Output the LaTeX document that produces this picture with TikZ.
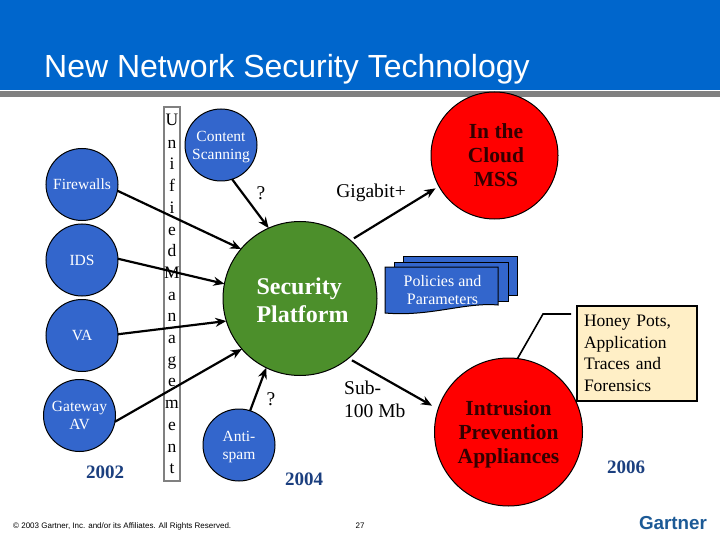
\documentclass[tikz,border=0pt]{standalone}
\usepackage{fontspec}
\setmainfont{Liberation Serif}
\newfontfamily\arialfont{Liberation Sans}
\usetikzlibrary{positioning,arrows.meta}
\definecolor{headblue}{HTML}{0066CC}
\definecolor{bargray}{HTML}{808080}
\definecolor{techblue}{HTML}{3366CC}
\definecolor{platgreen}{HTML}{4C8F2B}
\definecolor{hotred}{HTML}{FF0000}
\definecolor{inkred}{HTML}{330000}
\definecolor{yearnavy}{HTML}{1B3F7F}
\definecolor{notecream}{HTML}{FFEFC6}
\definecolor{logoblue}{HTML}{1C5A96}
\tikzset{
  tech/.style={draw=black, fill=techblue, circle, line width=1pt, inner sep=0pt, outer sep=0pt, minimum size=72pt, align=center, text=white, font=\fontsize{15.5}{17.5}\selectfont},
  platform/.style={draw=black, fill=platgreen, circle, line width=1pt, inner sep=0pt, outer sep=0pt, minimum size=154pt},
  hot/.style={draw=black, fill=hotred, circle, line width=1pt, inner sep=0pt, outer sep=0pt},
  disctext/.style={inner sep=0pt, align=center, text=white, font=\fontsize{15.5}{17.5}\selectfont},
  plattext/.style={inner sep=0pt, align=left, text=white, font=\fontsize{24}{28}\selectfont\bfseries},
  hottext/.style={inner sep=0pt, align=center, text=inkred, font=\fontsize{21.5}{24}\selectfont\bfseries},
  flow/.style={-{Stealth[length=11pt,width=9pt]}, line width=2.2pt, draw=black},
  sheet/.style={draw=black, fill=techblue, line width=1pt},
  lbl/.style={font=\fontsize{19.5}{23}\selectfont, align=left, inner sep=0pt},
  year/.style={font=\fontsize{19}{22}\selectfont\bfseries, text=yearnavy, inner sep=0pt},
  foot/.style={font=\arialfont\fontsize{8}{9}\selectfont, inner sep=0pt},
  leader/.style={line width=1.6pt, draw=black},
}
\begin{document}
\begin{tikzpicture}[x=1pt,y=-1pt]
  \useasboundingbox (0,0) rectangle (720,540);

  % 1. HEADER
  \fill[headblue] (0,0) rectangle (720,90);
  \fill[bargray] (0,91) rectangle (720,97);
  \node[anchor=base west, inner sep=0pt, text=white, font=\arialfont\fontsize{32}{36}\selectfont] (title) at (44,77.5) {New Network Security Technology};

  % 2. LEFT COLUMN
  \node[tech] (firewalls) at (82,184.5) {Firewalls};
  \node[tech, below=3.5pt of firewalls] (ids) {IDS};
  \node[tech, below=3.5pt of ids] (va) {VA};
  \node[tech, below=8pt of va, xshift=-2.5pt] (gateway) {Gateway\\ AV};
  \node[year] (y2002) at (105,472) {2002};

  % 3. MANAGEMENT STRIP
  \node[draw=bargray, line width=2pt, inner sep=0pt, minimum width=16pt, minimum height=374pt, text width=16pt, align=center, font=\fontsize{17.5}{21.7}\selectfont] (unified) at (172,294)
    {\vspace{1pt}U\\ n\\ i\\ f\\ i\\ e\\ d\\ M\\ a\\ n\\ a\\ g\\ e\\ m\\ e\\ n\\ t};

  % 4. CENTRE
  \node[platform] (secplat) at (300,298.5) {};
  \node[plattext] (secplattext) at (302.5,300.5) {Security\\ Platform};
  \node[tech] (content) at (221,145) {};
  \node[disctext] (contenttext) at (221,147) {Content\\ Scanning};
  \node[tech] (antispam) at (239,445) {};
  \node[disctext] (antispamtext) at (239,447) {Anti-\\ spam};
  \node[hot, minimum size=127pt] (cloud) at (494.5,155.5) {};
  \node[hottext] (cloudtext) at (496,155.5) {In the\\ Cloud\\ MSS};
  \node[hot, minimum size=148pt] (intrusion) at (508.5,432) {};
  \node[hottext] (intrusiontext) at (508.5,434) {Intrusion\\ Prevention\\ Appliances};

  % 5. POLICY SHEETS
  \draw[sheet] (403,256) rectangle (517,295);
  \draw[sheet] (394,262) rectangle (508,301);
  \draw[sheet] (385,267) -- (498,267) -- (498,305) .. controls (465,302) and (430,317) .. (385,313) -- cycle;
  \node[align=center, text=white, inner sep=0pt, font=\fontsize{16}{18}\selectfont] (policies) at (442.5,290) {Policies and\\ Parameters};

  % 6. NOTE BOX
  \node[draw=black, fill=notecream, line width=2pt, inner sep=0pt, minimum width=120pt, minimum height=95pt, text width=106pt, align=left, font=\fontsize{17.5}{21.5}\selectfont] (honeypots) at (637,353.5) {Honey Pots,\\ Application\\ Traces and\\ Forensics};
  \coordinate (bend) at (543,314);
  \draw[leader] ([xshift=-5pt]honeypots.west |- bend) -- (bend) -- (intrusion.83);

  % 7. FLOWS
  \draw[flow] (firewalls.-10) -- (secplat.140);
  \draw[flow] (ids.2) -- (secplat.169);
  \draw[flow] (va.2) -- (secplat.197);
  \draw[flow] (gateway.-10) -- (secplat.221);
  \draw[flow] (content.-72) -- (secplat.114);
  \draw[flow] (antispam.72) -- (secplat.244);
  \draw[flow, shorten <=4pt, shorten >=4pt] (secplat.49) -- (cloud.209);
  \draw[flow, shorten <=4pt, shorten >=7pt] (secplat.-51) -- (intrusion.162);

  % 8. LABELS
  \node[lbl] (qtop) at (261,193) {?};
  \node[lbl] (qbottom) at (271,399) {?};
  \node[lbl] (gigabit) at (371,193) {Gigabit+};
  \node[lbl, anchor=west] (sub) at (344,399.5) {Sub-\\ 100 Mb};
  \node[year] (y2004) at (304,479) {2004};
  \node[year] (y2006) at (626,467) {2006};

  % 9. FOOTER
  \node[foot, anchor=west] (copyright) at (13,526) {© 2003 Gartner, Inc. and/or its Affiliates. All Rights Reserved.};
  \node[foot] (pageno) at (360,526) {27};
  \node[inner sep=0pt, text=logoblue, font=\arialfont\bfseries\fontsize{18.8}{20}\selectfont] (logo) at (673,523) {Gartner};
\end{tikzpicture}
\end{document}
